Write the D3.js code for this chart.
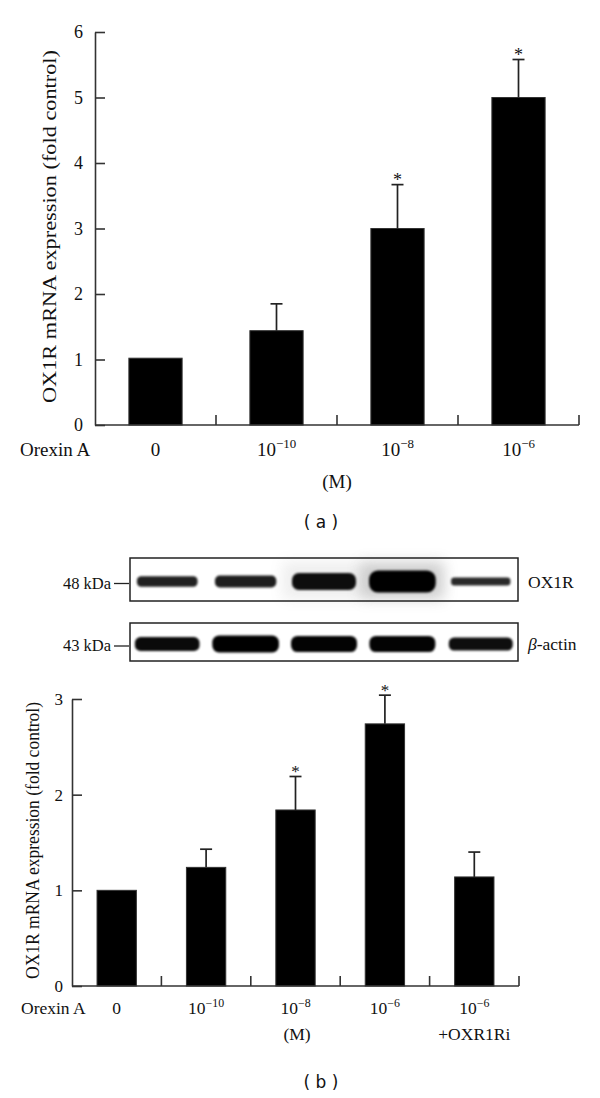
<!DOCTYPE html>
<html>
<head>
<meta charset="utf-8">
<script src="https://cdn.jsdelivr.net/npm/d3@7"></script>
<style>
  body { margin: 0; background: #fff; }
  text { font-family: "Liberation Serif", "Times New Roman", serif; fill: #111; }
</style>
</head>
<body>
<svg id="fig" width="600" height="1098"></svg>
<script>
// panel (a): qPCR, orexin A dose
const topCategories = ["0", "1e-10", "1e-8", "1e-6"];
const topMeans = [1.02, 1.44, 3.0, 5.0];
const topErrors = [0, 0.41, 0.67, 0.58];
const topSignificant = [false, false, true, true];
const topTicks = [0, 1, 2, 3, 4, 5, 6];

// panel (b): western blot quantification
const bottomCategories = ["0", "1e-10", "1e-8", "1e-6", "1e-6+OXR1Ri"];
const bottomMeans = [1.0, 1.24, 1.84, 2.74, 1.14];
const bottomErrors = [0, 0.19, 0.35, 0.30, 0.26];
const bottomSignificant = [false, false, true, true, false];
const bottomTicks = [0, 1, 2, 3];

// blot band strength per lane (relative)
const ox1rLevels = [0.55, 0.6, 0.8, 1.0, 0.45];
const actinLevels = [0.85, 1.0, 0.95, 0.95, 0.8];

const svg = d3.select("#fig");
const yTitle = "OX1R mRNA expression (fold control)";

// writes "0" or "10" with a superscript exponent, plus optional second line
function doseLabel(text, cat, fontSize, lineGap) {
    const parts = cat.split("+");
    const dose = parts[0];
    if (dose === "0") {
        text.append("tspan").text("0");
    } else {
        const exp = dose.split("e")[1];
        text.append("tspan").text("10");
        text.append("tspan")
            .attr("font-size", fontSize * 0.68)
            .attr("dy", -fontSize * 0.42)
            .text("\u2212" + exp.replace("-", ""));
    }
    if (parts.length > 1) {
        text.append("tspan")
            .attr("x", text.attr("x"))
            .attr("y", +text.attr("y") + lineGap)
            .text("+" + parts[1]);
    }
}

function drawPanel(p) {
    const x = d3.scaleBand().domain(p.cats).range(p.xRange).padding(0);
    const y = d3.scaleLinear().domain([0, d3.max(p.ticks)]).range(p.yRange);
    const g = svg.append("g");
    const barW = x.step() * 0.44;
    const cx = d => x(d) + x.bandwidth() / 2;

    g.selectAll("rect.bar")
        .data(p.cats)
        .join("rect")
        .attr("class", "bar")
        .attr("x", d => cx(d) - barW / 2)
        .attr("y", (d, i) => y(p.means[i]))
        .attr("width", barW)
        .attr("height", (d, i) => y(0) - y(p.means[i]))
        .attr("fill", "#000")
        .attr("stroke", "#333")
        .attr("stroke-width", 1);

    const withErr = p.cats.map((d, i) => i).filter(i => p.errs[i] > 0);

    g.selectAll("line.err")
        .data(withErr)
        .join("line")
        .attr("class", "err")
        .attr("x1", i => cx(p.cats[i]))
        .attr("x2", i => cx(p.cats[i]))
        .attr("y1", i => y(p.means[i]))
        .attr("y2", i => y(p.means[i] + p.errs[i]))
        .attr("stroke", "#222")
        .attr("stroke-width", 1.7);

    g.selectAll("line.cap")
        .data(withErr)
        .join("line")
        .attr("class", "cap")
        .attr("x1", i => cx(p.cats[i]) - 6)
        .attr("x2", i => cx(p.cats[i]) + 6)
        .attr("y1", i => y(p.means[i] + p.errs[i]))
        .attr("y2", i => y(p.means[i] + p.errs[i]))
        .attr("stroke", "#222")
        .attr("stroke-width", 1.7);

    g.selectAll("text.star")
        .data(withErr.filter(i => p.sig[i]))
        .join("text")
        .attr("class", "star")
        .attr("x", i => cx(p.cats[i]))
        .attr("y", i => y(p.means[i] + p.errs[i]) + 1)
        .attr("text-anchor", "middle")
        .style("font-size", p.starSize + "px")
        .text("*");

    // y axis, ticks pointing into the plot
    const yAxis = g.append("g")
        .attr("transform", `translate(${p.xRange[0]},0)`)
        .call(d3.axisLeft(y).tickValues(p.ticks).tickFormat(d3.format("d"))
            .tickSizeInner(-10).tickSizeOuter(0).tickPadding(p.tickPad));
    yAxis.selectAll("path, line").attr("stroke", "#333").attr("stroke-width", 1.6);
    yAxis.selectAll("text").style("font-size", p.tickFont + "px");

    // x axis with upward ticks between groups
    g.append("line")
        .attr("x1", p.xRange[0]).attr("x2", p.xRange[1])
        .attr("y1", y(0)).attr("y2", y(0))
        .attr("stroke", "#333").attr("stroke-width", 1.6);
    g.selectAll("line.xtick")
        .data(p.cats)
        .join("line")
        .attr("class", "xtick")
        .attr("x1", d => x(d) + x.step())
        .attr("x2", d => x(d) + x.step())
        .attr("y1", y(0))
        .attr("y2", y(0) - 10)
        .attr("stroke", "#333").attr("stroke-width", 1.6);

    g.selectAll("text.xlab")
        .data(p.cats)
        .join("text")
        .attr("class", "xlab")
        .attr("x", d => cx(d))
        .attr("y", p.labelY)
        .attr("text-anchor", "middle")
        .style("font-size", p.labelFont + "px")
        .each(function(d) { doseLabel(d3.select(this), d, p.labelFont, p.lineGap); });

    g.append("text")
        .attr("x", p.orexinX)
        .attr("y", p.labelY)
        .style("font-size", p.labelFont + "px")
        .text("Orexin A");

    g.append("text")
        .attr("x", p.unitX)
        .attr("y", p.labelY + p.lineGap)
        .attr("text-anchor", "middle")
        .style("font-size", p.labelFont + "px")
        .text("(M)");

    g.append("text")
        .attr("transform", `translate(${p.titleX},${(p.yRange[0] + p.yRange[1]) / 2 - 2}) rotate(-90)`)
        .attr("text-anchor", "middle")
        .attr("textLength", p.titleLen)
        .attr("lengthAdjust", "spacingAndGlyphs")
        .style("font-size", p.titleFont + "px")
        .text(yTitle);

    g.append("text")
        .attr("x", 321)
        .attr("y", p.panelY)
        .attr("text-anchor", "middle")
        .style("font-family", "'DejaVu Sans', Verdana, sans-serif")
        .style("font-size", "17px")
        .text(p.panel);
}

drawPanel({
    cats: topCategories, means: topMeans, errs: topErrors, sig: topSignificant, ticks: topTicks,
    xRange: [95, 579], yRange: [425, 32],
    tickFont: 18, tickPad: 12, labelFont: 19, labelY: 456, lineGap: 32,
    orexinX: 20, unitX: 337, starSize: 18,
    titleX: 56, titleLen: 353, titleFont: 19,
    panel: "( a )", panelY: 528
});

drawPanel({
    cats: bottomCategories, means: bottomMeans, errs: bottomErrors, sig: bottomSignificant, ticks: bottomTicks,
    xRange: [72, 519], yRange: [986, 699],
    tickFont: 17, tickPad: 9, labelFont: 17.5, labelY: 1014, lineGap: 26,
    orexinX: 21, unitX: 297, starSize: 17,
    titleX: 39, titleLen: 277, titleFont: 18,
    panel: "( b )", panelY: 1088
});

// western blot strips
const defs = svg.append("defs");
defs.append("filter").attr("id", "blur").attr("x", "-20%").attr("y", "-50%")
    .attr("width", "140%").attr("height", "200%")
    .append("feGaussianBlur").attr("stdDeviation", 1.3);
defs.append("filter").attr("id", "haze").attr("x", "-50%").attr("y", "-50%")
    .attr("width", "200%").attr("height", "200%")
    .append("feGaussianBlur").attr("stdDeviation", 7);

const lane = d3.scaleBand().domain(d3.range(5)).range([130, 518]).paddingInner(0.15).paddingOuter(0.05);

function drawBlot(levels, boxTop, boxBottom, thick, kda, name) {
    const g = svg.append("g");
    const mid = (boxTop + boxBottom) / 2 + 2;

    g.selectAll("rect.haze")
        .data(levels.map((v, i) => i).filter(i => levels[i] >= 0.8 && thick.domain()[0] < 0.7))
        .join("rect")
        .attr("x", i => lane(i) - 8)
        .attr("y", boxTop + 4)
        .attr("width", i => lane.bandwidth() + 16)
        .attr("height", boxBottom - boxTop - 6)
        .attr("fill", "#777")
        .attr("opacity", i => (levels[i] - 0.7) * 1.2)
        .attr("filter", "url(#haze)");

    g.selectAll("rect.band")
        .data(levels)
        .join("rect")
        .attr("class", "band")
        .attr("x", (v, i) => lane(i) + lane.bandwidth() * (1 - (0.8 + 0.2 * v)) / 2)
        .attr("width", v => lane.bandwidth() * (0.8 + 0.2 * v))
        .attr("y", v => mid - thick(v) / 2)
        .attr("height", v => thick(v))
        .attr("rx", v => thick(v) / 2.5)
        .attr("fill", "#050505")
        .attr("opacity", v => 0.7 + 0.3 * v)
        .attr("filter", "url(#blur)");

    g.append("rect")
        .attr("x", lane.range()[0]).attr("y", boxTop)
        .attr("width", lane.range()[1] - lane.range()[0])
        .attr("height", boxBottom - boxTop)
        .attr("fill", "none").attr("stroke", "#222").attr("stroke-width", 1.5);

    g.append("line")
        .attr("x1", 114).attr("x2", 129)
        .attr("y1", mid + 2).attr("y2", mid + 2)
        .attr("stroke", "#222").attr("stroke-width", 1.3);

    g.append("text")
        .attr("x", 111).attr("y", mid + 7)
        .attr("text-anchor", "end")
        .style("font-size", "16.5px")
        .text(kda);

    const lbl = g.append("text")
        .attr("x", 528).attr("y", mid + 6)
        .style("font-size", "17.5px");
    if (name === "OX1R") {
        lbl.text(name);
    } else {
        lbl.append("tspan").style("font-style", "italic").text("\u03B2");
        lbl.append("tspan").text("-actin");
    }
}

drawBlot(ox1rLevels, 558, 601, d3.scaleLinear().domain([0.45, 1]).range([8, 22]), "48 kDa", "OX1R");
drawBlot(actinLevels, 623, 661, d3.scaleLinear().domain([0.8, 1]).range([13, 17]), "43 kDa", "actin");
</script>
</body>
</html>
